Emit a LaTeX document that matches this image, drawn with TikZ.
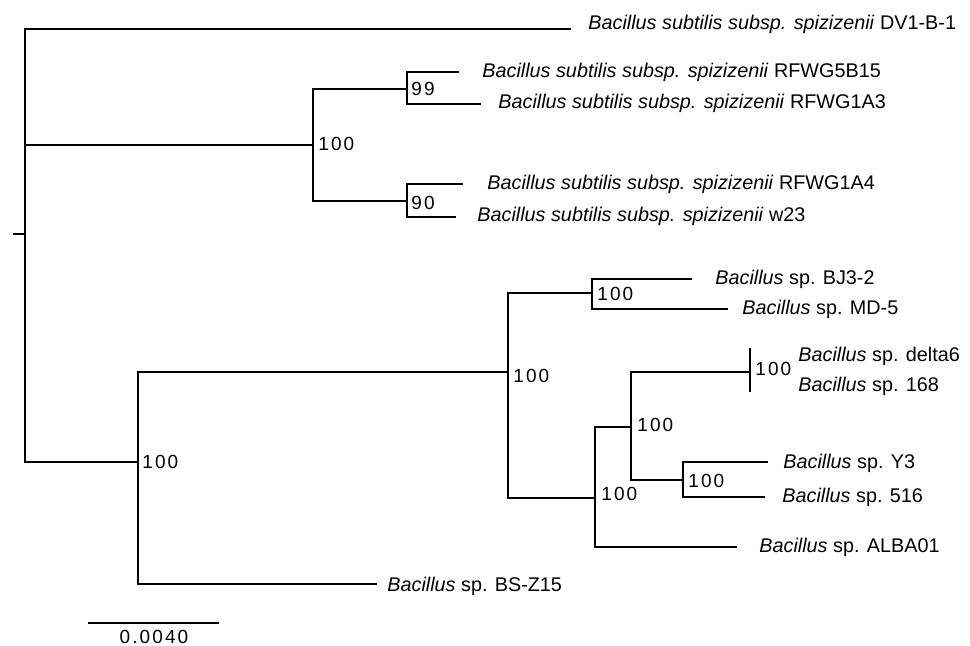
\documentclass[tikz,border=0pt]{standalone}
\usepackage{fontspec}
\setmainfont{Liberation Sans}
\newfontfamily\numfont[LetterSpace=11]{Liberation Sans}
\begin{document}
\begin{tikzpicture}[x=0.5pt,y=-0.5pt,
  branch/.style={line width=1.3pt, line join=miter},
  leaf/.style={inner sep=0pt, anchor=base west, font=\fontsize{9.9}{12}\selectfont},
  boot/.style={inner sep=0pt, anchor=west, font=\fontsize{9.5}{11}\numfont}]
\useasboundingbox (0,0) rectangle (970,645);
% internal nodes (entry points)
\coordinate (R) at (25,234);
\coordinate (tick) at (13,234);
\coordinate (A) at (313,145);
\coordinate (A1) at (407,89);
\coordinate (A2) at (407,201);
\coordinate (B) at (138,462);
\coordinate (C) at (508,372);
\coordinate (D) at (592,293);
\coordinate (E) at (595,498);
\coordinate (F) at (631,427);
\coordinate (G) at (750,372);
\coordinate (H) at (683,480);
% leaf ends
\coordinate (eDV) at (571,29);
\coordinate (e5B15) at (459,72);
\coordinate (e1A3) at (481,104);
\coordinate (e1A4) at (463,184);
\coordinate (ew23) at (456,217);
\coordinate (eBJ) at (692,279);
\coordinate (eMD) at (728,309);
\coordinate (edelta) at (750,348);
\coordinate (e168) at (750,392);
\coordinate (eY3) at (768,462);
\coordinate (e516) at (765,497);
\coordinate (eALBA) at (737,547);
\coordinate (eBSZ) at (377,584);
% branches
\draw[branch] (tick) -- (R);
\draw[branch] (eDV) -| (R) |- (B);
\draw[branch] (R) |- (A);
\draw[branch] (A1) -| (A) |- (A2);
\draw[branch] (e5B15) -| (A1) |- (e1A3);
\draw[branch] (e1A4) -| (A2) |- (ew23);
\draw[branch] (C) -| (B) |- (eBSZ);
\draw[branch] (D) -| (C) |- (E);
\draw[branch] (eBJ) -| (D) |- (eMD);
\draw[branch] (F) -| (E) |- (eALBA);
\draw[branch] (G) -| (F) |- (H);
\draw[branch] (edelta) -- (G) -- (e168);
\draw[branch] (eY3) -| (H) |- (e516);
% leaf labels
\node[leaf] (tDV) at (588,29) {\textit{Bacillus subtilis subsp. spizizenii} DV1-B-1};
\node[leaf] (t5B15) at (482,77) {\textit{Bacillus subtilis subsp. spizizenii} RFWG5B15};
\node[leaf] (t1A3) at (498,108) {\textit{Bacillus subtilis subsp. spizizenii} RFWG1A3};
\node[leaf] (t1A4) at (487,189) {\textit{Bacillus subtilis subsp. spizizenii} RFWG1A4};
\node[leaf] (tw23) at (477,221) {\textit{Bacillus subtilis subsp. spizizenii} w23};
\node[leaf] (tBJ) at (715,284) {\textit{Bacillus} sp. BJ3-2};
\node[leaf] (tMD) at (742,314) {\textit{Bacillus} sp. MD-5};
\node[leaf] (tdelta) at (798,361) {\textit{Bacillus} sp. delta6};
\node[leaf] (t168) at (798,391) {\textit{Bacillus} sp. 168};
\node[leaf] (tY3) at (783,468) {\textit{Bacillus} sp. Y3};
\node[leaf] (t516) at (782,502) {\textit{Bacillus} sp. 516};
\node[leaf] (tALBA) at (759,552) {\textit{Bacillus} sp. ALBA01};
\node[leaf] (tBSZ) at (387,591) {\textit{Bacillus} sp. BS-Z15};
% bootstrap values
\node[boot] (bB) at (142,462) {100};
\node[boot] (bA) at (318,144) {100};
\node[boot] (bA1) at (411,89) {99};
\node[boot] (bA2) at (411,203) {90};
\node[boot] (bC) at (513,376) {100};
\node[boot] (bD) at (597,294) {100};
\node[boot] (bE) at (601,494) {100};
\node[boot] (bF) at (637,425) {100};
\node[boot] (bH) at (688,481) {100};
\node[boot] (bG) at (755,369) {100};
% scale bar
\coordinate (s1) at (88,623);
\coordinate (s2) at (219,623);
\draw[line width=1.1pt] (s1) -- (s2);
\node[inner sep=0pt, font=\fontsize{9.5}{11}\numfont] (sl) at (154,637) {0.0040};
\end{tikzpicture}
\end{document}
